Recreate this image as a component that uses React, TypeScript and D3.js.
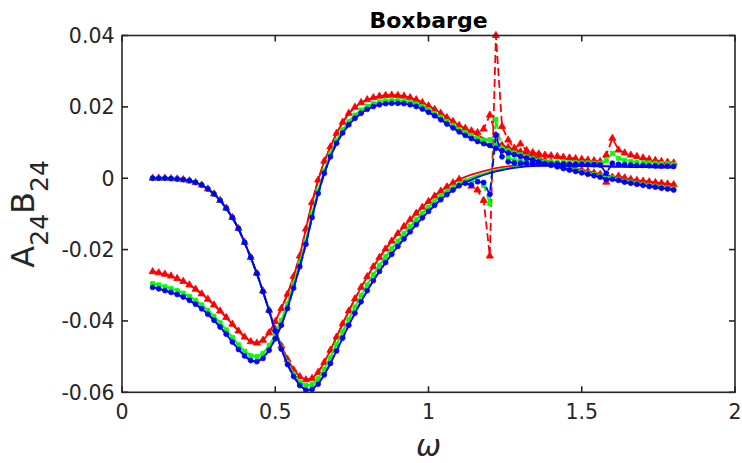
import React from 'react';
import * as d3 from 'd3';

// ---------------- DATA ----------------
const omega = [
  0.10, 0.12, 0.14, 0.16, 0.18, 0.20, 0.22, 0.24, 0.26, 0.28,
  0.30, 0.32, 0.34, 0.36, 0.38, 0.40, 0.42, 0.44, 0.46, 0.48,
  0.50, 0.52, 0.54, 0.56, 0.58, 0.60, 0.62, 0.64, 0.66, 0.68,
  0.70, 0.72, 0.74, 0.76, 0.78, 0.80, 0.82, 0.84, 0.86, 0.88,
  0.90, 0.92, 0.94, 0.96, 0.98, 1.00, 1.02, 1.04, 1.06, 1.08,
  1.10, 1.12, 1.14, 1.16, 1.18, 1.20, 1.22, 1.24, 1.26, 1.28,
  1.30, 1.32, 1.34, 1.36, 1.38, 1.40, 1.42, 1.44, 1.46, 1.48,
  1.50, 1.52, 1.54, 1.56, 1.58, 1.60, 1.62, 1.64, 1.66, 1.68,
  1.70, 1.72, 1.74, 1.76, 1.78, 1.80,
];

// A24 (starts at 0) – smooth (solid) curves
const aRed = [
  0, 0, 0, -0.0001, -0.0002, -0.0004, -0.0007, -0.0012, -0.0019, -0.0030,
  -0.0044, -0.0062, -0.0084, -0.0110, -0.0141, -0.0180, -0.0222, -0.0266, -0.0316, -0.0370,
  -0.0423, -0.0470, -0.0508, -0.0537, -0.0556, -0.0565, -0.0561, -0.0544, -0.0516, -0.0482,
  -0.0445, -0.0408, -0.0372, -0.0338, -0.0306, -0.0276, -0.0248, -0.0222, -0.0198, -0.0176,
  -0.0155, -0.0135, -0.0116, -0.0098, -0.0081, -0.0065, -0.0050, -0.0036, -0.0024, -0.0013,
  -0.0003, 0.0004, 0.0010, 0.0015, 0.0020, 0.0024, 0.0028, 0.0031, 0.0033, 0.0035,
  0.0036, 0.0037, 0.0038, 0.0038, 0.0038, 0.0038, 0.0038, 0.0038, 0.0037, 0.0037,
  0.0037, 0.0036, 0.0036, 0.0036, 0.0035, 0.0035, 0.0035, 0.0034, 0.0034, 0.0034,
  0.0034, 0.0033, 0.0033, 0.0033, 0.0033, 0.0032,
];
const aGreen = [
  0, 0, 0, -0.0001, -0.0002, -0.0004, -0.0007, -0.0012, -0.0019, -0.0030,
  -0.0044, -0.0062, -0.0084, -0.0110, -0.0141, -0.0180, -0.0222, -0.0267, -0.0317, -0.0371,
  -0.0426, -0.0476, -0.0517, -0.0549, -0.0571, -0.0581, -0.0578, -0.0562, -0.0535, -0.0502,
  -0.0466, -0.0430, -0.0395, -0.0361, -0.0329, -0.0299, -0.0270, -0.0244, -0.0220, -0.0197,
  -0.0176, -0.0155, -0.0135, -0.0116, -0.0098, -0.0081, -0.0065, -0.0050, -0.0037, -0.0025,
  -0.0015, -0.0006, 0.0002, 0.0008, 0.0013, 0.0018, 0.0022, 0.0026, 0.0029, 0.0031,
  0.0033, 0.0034, 0.0035, 0.0036, 0.0036, 0.0036, 0.0036, 0.0036, 0.0036, 0.0035,
  0.0035, 0.0035, 0.0034, 0.0034, 0.0034, 0.0034, 0.0033, 0.0033, 0.0033, 0.0032,
  0.0032, 0.0032, 0.0032, 0.0031, 0.0031, 0.0031,
];
const aBlue = [
  0, 0, 0, -0.0001, -0.0002, -0.0004, -0.0007, -0.0012, -0.0019, -0.0030,
  -0.0044, -0.0062, -0.0084, -0.0110, -0.0141, -0.0180, -0.0222, -0.0267, -0.0318, -0.0372,
  -0.0428, -0.0479, -0.0522, -0.0556, -0.0581, -0.0594, -0.0592, -0.0577, -0.0551, -0.0519,
  -0.0484, -0.0448, -0.0412, -0.0378, -0.0346, -0.0315, -0.0287, -0.0261, -0.0236, -0.0213,
  -0.0191, -0.0170, -0.0150, -0.0130, -0.0111, -0.0093, -0.0076, -0.0060, -0.0046, -0.0033,
  -0.0021, -0.0012, -0.0004, 0.0003, 0.0009, 0.0014, 0.0019, 0.0023, 0.0026, 0.0029,
  0.0031, 0.0033, 0.0034, 0.0035, 0.0035, 0.0035, 0.0035, 0.0035, 0.0035, 0.0034,
  0.0034, 0.0034, 0.0033, 0.0033, 0.0033, 0.0032, 0.0032, 0.0032, 0.0031, 0.0031,
  0.0031, 0.0031, 0.0030, 0.0030, 0.0030, 0.0030,
];

// B24 (starts near -0.03) – smooth (solid) curves
const bRed = [
  -0.0262, -0.0265, -0.0269, -0.0274, -0.0281, -0.0289, -0.0299, -0.0311, -0.0324, -0.0339,
  -0.0355, -0.0372, -0.0390, -0.0409, -0.0428, -0.0445, -0.0458, -0.0462, -0.0454, -0.0433,
  -0.0402, -0.0365, -0.0325, -0.0275, -0.0218, -0.0142, -0.0068, -0.0005, 0.0048, 0.0088,
  0.0126, 0.0157, 0.0182, 0.0199, 0.0212, 0.0220, 0.0226, 0.0230, 0.0232, 0.0233,
  0.0232, 0.0230, 0.0226, 0.0220, 0.0212, 0.0203, 0.0193, 0.0182, 0.0170, 0.0159,
  0.0148, 0.0138, 0.0129, 0.0120, 0.0112, 0.0105, 0.0098, 0.0092, 0.0086, 0.0080,
  0.0074, 0.0068, 0.0062, 0.0056, 0.0050, 0.0045, 0.0040, 0.0035, 0.0031, 0.0027,
  0.0023, 0.0019, 0.0015, 0.0011, 0.0008, 0.0005, 0.0002, -0.0001, -0.0003, -0.0006,
  -0.0008, -0.0010, -0.0012, -0.0014, -0.0016, -0.0018,
];
const bGreen = [
  -0.0295, -0.0299, -0.0304, -0.0309, -0.0315, -0.0322, -0.0331, -0.0342, -0.0355, -0.0370,
  -0.0387, -0.0405, -0.0425, -0.0446, -0.0467, -0.0485, -0.0497, -0.0500, -0.0491, -0.0469,
  -0.0437, -0.0398, -0.0352, -0.0296, -0.0237, -0.0175, -0.0101, -0.0035, 0.0021, 0.0068,
  0.0106, 0.0136, 0.0159, 0.0177, 0.0191, 0.0202, 0.0209, 0.0214, 0.0217, 0.0218,
  0.0218, 0.0216, 0.0213, 0.0208, 0.0201, 0.0192, 0.0182, 0.0171, 0.0159, 0.0148,
  0.0137, 0.0127, 0.0118, 0.0110, 0.0102, 0.0095, 0.0089, 0.0083, 0.0077, 0.0071,
  0.0066, 0.0060, 0.0055, 0.0050, 0.0045, 0.0040, 0.0035, 0.0030, 0.0026, 0.0022,
  0.0018, 0.0014, 0.0010, 0.0006, 0.0002, -0.0001, -0.0005, -0.0008, -0.0011, -0.0014,
  -0.0017, -0.0020, -0.0022, -0.0025, -0.0027, -0.0030,
];
const bBlue = [
  -0.0306, -0.0310, -0.0315, -0.0320, -0.0326, -0.0333, -0.0342, -0.0353, -0.0366, -0.0381,
  -0.0398, -0.0417, -0.0437, -0.0459, -0.0480, -0.0498, -0.0511, -0.0514, -0.0505, -0.0482,
  -0.0450, -0.0412, -0.0365, -0.0308, -0.0248, -0.0185, -0.0110, -0.0043, 0.0014, 0.0060,
  0.0098, 0.0127, 0.0150, 0.0168, 0.0182, 0.0193, 0.0201, 0.0206, 0.0209, 0.0210,
  0.0210, 0.0209, 0.0206, 0.0201, 0.0194, 0.0185, 0.0175, 0.0164, 0.0152, 0.0141,
  0.0130, 0.0120, 0.0111, 0.0103, 0.0096, 0.0089, 0.0083, 0.0077, 0.0071, 0.0066,
  0.0061, 0.0056, 0.0051, 0.0046, 0.0041, 0.0036, 0.0032, 0.0027, 0.0023, 0.0019,
  0.0015, 0.0011, 0.0007, 0.0003, -0.0001, -0.0004, -0.0008, -0.0011, -0.0014, -0.0017,
  -0.0020, -0.0023, -0.0025, -0.0028, -0.0030, -0.0033,
];

// Dashed (marker) curves: identical to the smooth ones up to omega = 1.10,
// these are their values from omega = 1.12 to 1.80 (irregular frequencies)
const aRedTail = [
  -0.0012, -0.0022, -0.0033, -0.0062, -0.0218, 0.0400, 0.0145, 0.0107, 0.0084, 0.0096,
  0.0078, 0.0072, 0.0068, 0.0065, 0.0063, 0.0061, 0.0059, 0.0057, 0.0055, 0.0053,
  0.0051, 0.0049, 0.0047, 0.0065, 0.0112, 0.0079, 0.0071, 0.0065, 0.0061, 0.0057,
  0.0053, 0.0050, 0.0047, 0.0045, 0.0043,
];
const aGreenTail = [
  -0.0008, -0.0010, -0.0008, -0.0020, -0.0072, 0.0165, 0.0080, 0.0058, 0.0050, 0.0048,
  0.0048, 0.0047, 0.0047, 0.0046, 0.0046, 0.0045, 0.0045, 0.0044, 0.0044, 0.0043,
  0.0043, 0.0042, 0.0042, 0.0050, 0.0070, 0.0056, 0.0050, 0.0047, 0.0045, 0.0044,
  0.0043, 0.0042, 0.0041, 0.0040, 0.0039,
];
const aBlueTail = [
  -0.0014, -0.0019, -0.0010, -0.0012, -0.0045, 0.0121, 0.0060, 0.0046, 0.0043, 0.0042,
  0.0042, 0.0041, 0.0041, 0.0041, 0.0040, 0.0040, 0.0040, 0.0039, 0.0039, 0.0039,
  0.0038, 0.0038, 0.0037, 0.0014, 0.0042, 0.0039, 0.0038, 0.0037, 0.0036, 0.0036,
  0.0035, 0.0035, 0.0034, 0.0034, 0.0033,
];
const bRedTail = [
  0.0140, 0.0133, 0.0128, 0.0138, 0.0177, 0.0120, 0.0092, 0.0086, 0.0080, 0.0074,
  0.0068, 0.0062, 0.0056, 0.0050, 0.0045, 0.0040, 0.0035, 0.0031, 0.0027, 0.0023,
  0.0019, 0.0015, 0.0011, -0.0011, 0.0003, 0.0006, 0.0001, -0.0003, -0.0006, -0.0008,
  -0.0010, -0.0012, -0.0014, -0.0016, -0.0018,
];
const bGreenTail = [
  0.0128, 0.0120, 0.0112, 0.0106, 0.0108, 0.0096, 0.0083, 0.0077, 0.0071, 0.0066,
  0.0060, 0.0055, 0.0050, 0.0045, 0.0040, 0.0035, 0.0030, 0.0026, 0.0022, 0.0018,
  0.0014, 0.0010, 0.0006, 0.0000, 0.0001, -0.0003, -0.0008, -0.0011, -0.0014, -0.0017,
  -0.0020, -0.0022, -0.0025, -0.0027, -0.0030,
];
const bBlueTail = [
  0.0120, 0.0111, 0.0103, 0.0097, 0.0092, 0.0084, 0.0077, 0.0071, 0.0066, 0.0061,
  0.0056, 0.0051, 0.0046, 0.0041, 0.0036, 0.0032, 0.0027, 0.0023, 0.0019, 0.0015,
  0.0011, 0.0007, 0.0003, -0.0004, -0.0003, -0.0006, -0.0011, -0.0014, -0.0017, -0.0020,
  -0.0023, -0.0025, -0.0028, -0.0030, -0.0033,
];

const xTicks = [0, 0.5, 1, 1.5, 2];
const xTickLabels = ['0', '0.5', '1', '1.5', '2'];
const yTicks = [-0.06, -0.04, -0.02, 0, 0.02, 0.04];
const yTickLabels = ['-0.06', '-0.04', '-0.02', '0', '0.02', '0.04'];
const titleText = 'Boxbarge';

// ---------------- LAYOUT ----------------
const W = 742;
const H = 463;
const L = 122, R = 735, T = 35.5, B = 392.3;
const AX = '#262626';
const FONT = '"DejaVu Sans", sans-serif';

const x = d3.scaleLinear().domain([0, 2]).range([L, R]);
const y = d3.scaleLinear().domain([-0.06, 0.04]).range([B, T]);

const HEAD = 51; // points up to omega = 1.10

const groups = [
  { color: '#ff0000', symbol: d3.symbolTriangle, size: 22, A: aRed, B: bRed, Ad: aRed.slice(0, HEAD).concat(aRedTail), Bd: bRed.slice(0, HEAD).concat(bRedTail) },
  { color: '#00ff00', symbol: d3.symbolSquare, size: 17, A: aGreen, B: bGreen, Ad: aGreen.slice(0, HEAD).concat(aGreenTail), Bd: bGreen.slice(0, HEAD).concat(bGreenTail) },
  { color: '#0000ff', symbol: d3.symbolCircle, size: 19, A: aBlue, B: bBlue, Ad: aBlue.slice(0, HEAD).concat(aBlueTail), Bd: bBlue.slice(0, HEAD).concat(bBlueTail) },
];

export default function App() {
  const line = d3
    .line<number>()
    .x((_, i) => x(omega[i]))
    .y((d) => y(d));

  return (
    <svg width={W} height={H} style={{ position: 'absolute', left: 0, top: 0, background: '#fff' }}>
      <rect x={0} y={0} width={W} height={H} fill="#fff" />
      {groups.map((g, gi) => {
        const sym = d3.symbol().type(g.symbol).size(g.size)() as string;
        return (
          <g key={gi}>
            <path d={line(g.A) as string} fill="none" stroke={g.color} strokeWidth={1.8} />
            <path d={line(g.B) as string} fill="none" stroke={g.color} strokeWidth={1.8} />
            <path d={line(g.Ad) as string} fill="none" stroke={g.color} strokeWidth={1.8} strokeDasharray="8,4" />
            <path d={line(g.Bd) as string} fill="none" stroke={g.color} strokeWidth={1.8} strokeDasharray="8,4" />
            {[g.Ad, g.Bd].map((s, si) =>
              s.map((v, i) => (
                <path
                  key={`${si}-${i}`}
                  d={sym}
                  transform={`translate(${x(omega[i])},${y(v)})`}
                  fill={g.color}
                  stroke={g.color}
                  strokeWidth={0.8}
                />
              ))
            )}
          </g>
        );
      })}

      {/* axes box */}
      <rect x={L} y={T} width={R - L} height={B - T} fill="none" stroke={AX} strokeWidth={1.6} />
      {xTicks.map((t, i) => (
        <g key={`xt${i}`}>
          <line x1={x(t)} x2={x(t)} y1={B} y2={B - 6} stroke={AX} strokeWidth={1.6} />
          <line x1={x(t)} x2={x(t)} y1={T} y2={T + 6} stroke={AX} strokeWidth={1.6} />
          <text x={x(t)} y={418.5} textAnchor="middle" fontFamily={FONT} fontSize={20.5} fill={AX}>
            {xTickLabels[i]}
          </text>
        </g>
      ))}
      {yTicks.map((t, i) => (
        <g key={`yt${i}`}>
          <line x1={L} x2={L + 6} y1={y(t)} y2={y(t)} stroke={AX} strokeWidth={1.6} />
          <line x1={R} x2={R - 6} y1={y(t)} y2={y(t)} stroke={AX} strokeWidth={1.6} />
          <text x={114.5} y={y(t)} dy="0.36em" textAnchor="end" fontFamily={FONT} fontSize={20.5} fill={AX}>
            {yTickLabels[i]}
          </text>
        </g>
      ))}

      {/* title */}
      <text x={(L + R) / 2} y={28} textAnchor="middle" fontFamily={FONT} fontWeight="bold" fontSize={22} fill="#000">
        {titleText}
      </text>

      {/* y label */}
      <text
        transform={`translate(33.5,${(T + B) / 2}) rotate(-90)`}
        textAnchor="middle"
        fontFamily={FONT}
        fontSize={32}
        fill={AX}
      >
        A<tspan dy={14} fontSize={25}>24</tspan>
        <tspan dy={-14}>B</tspan>
        <tspan dy={14} fontSize={25}>24</tspan>
      </text>

      {/* x label */}
      <text x={(L + R) / 2} y={456} textAnchor="middle" fontFamily={FONT} fontStyle="italic" fontSize={30} fill={AX}>
        ω
      </text>
    </svg>
  );
}
